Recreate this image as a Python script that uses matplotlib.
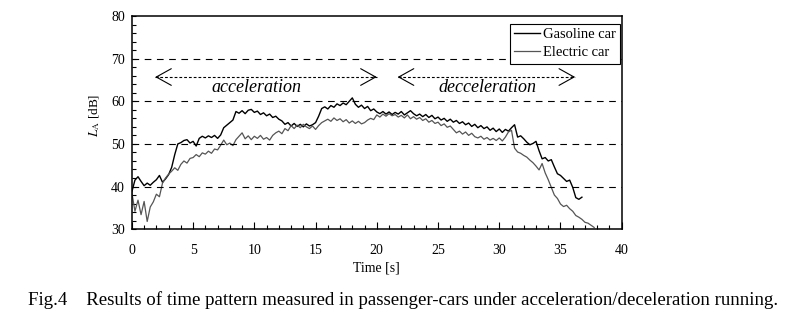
import numpy as np
import matplotlib
matplotlib.use('Agg')
import matplotlib.pyplot as plt
from matplotlib.ticker import MultipleLocator

plt.rcParams['font.family'] = 'Liberation Serif'
plt.rcParams['mathtext.fontset'] = 'stix'

step = 0.25
gasoline = [
    38.8, 41.5, 42.3, 41.2, 40.2, 40.8, 40.3, 41.0, 41.6, 42.6, 41.0, 41.8,
    42.8, 44.5, 47.5, 50.0, 50.3, 50.8, 51.0, 50.2, 50.6, 49.5, 51.3, 51.8,
    51.4, 51.9, 51.5, 52.0, 51.3, 52.1, 53.8, 54.4, 55.0, 55.6, 57.6, 57.2,
    57.8, 57.1, 57.9, 58.1, 57.4, 57.7, 56.9, 57.3, 56.6, 57.0, 56.2, 56.5,
    55.8, 55.4, 54.6, 55.0, 54.2, 54.8, 54.1, 54.6, 54.0, 54.7, 54.2, 54.5,
    55.0, 56.5, 58.3, 58.7, 58.2, 59.0, 58.6, 59.4, 59.0, 59.6, 59.2, 60.0,
    60.8, 59.3, 58.6, 59.1, 58.3, 58.8, 57.8, 58.2, 57.5, 57.1, 57.6, 57.0,
    57.5, 56.9, 57.4, 57.0, 57.6, 56.8, 57.3, 57.8, 57.1, 56.6, 57.0, 56.4,
    56.9, 56.2, 56.7, 55.9, 56.3, 55.6, 56.0, 55.3, 55.8, 55.1, 55.5, 54.8,
    55.2, 54.5, 54.9, 54.1, 54.6, 53.8, 54.3, 53.6, 54.0, 53.2, 53.7, 52.9,
    53.5, 52.7, 53.4, 53.0, 53.8, 54.5, 51.6, 51.9, 51.2, 50.4, 49.8, 50.1,
    50.6, 48.4, 46.5, 46.8, 46.0, 46.3, 44.6, 43.0, 42.6, 41.9, 41.2, 41.5,
    39.8, 37.4, 37.0, 37.5,
]
electric = [
    38.5, 34.2, 36.8, 33.4, 36.5, 31.8, 35.2, 36.4, 38.2, 37.6, 40.8, 42.0,
    42.9, 43.6, 44.4, 43.8, 45.2, 46.0, 45.5, 46.6, 46.8, 47.5, 47.0, 47.9,
    47.6, 48.3, 47.8, 48.8, 48.6, 49.7, 50.9, 49.8, 50.2, 49.6, 51.0, 51.8,
    52.6, 51.2, 51.9, 51.0, 51.8, 51.3, 52.0, 51.1, 51.5, 50.9, 52.0, 52.6,
    53.0, 52.4, 53.6, 53.1, 54.3, 53.6, 54.4, 53.8, 54.6, 54.0, 53.6, 54.2,
    53.4, 54.3, 55.0, 55.4, 55.8, 55.3, 56.1, 55.5, 55.9, 55.2, 55.7, 54.9,
    55.4, 54.8, 55.3, 54.7, 55.0, 55.6, 56.0, 55.7, 56.8, 56.3, 57.0, 56.5,
    57.1, 56.6, 56.9, 56.3, 56.7, 56.1, 56.8, 55.9, 56.4, 55.8, 56.2, 55.5,
    55.9, 55.1, 55.5, 54.8, 55.1, 54.3, 54.7, 53.9, 54.2, 53.4, 52.6, 53.0,
    52.3, 52.8, 52.0, 52.5, 51.7, 51.4, 51.8, 51.1, 51.5, 50.9, 51.3, 50.8,
    51.4, 50.7, 51.6, 52.8, 53.2, 49.0, 48.1, 47.8, 47.3, 46.9, 46.2, 45.6,
    44.8, 43.9, 45.4, 43.2, 41.6, 39.8, 38.0, 37.2, 35.9, 35.3, 35.6, 34.8,
    34.2, 33.2, 32.8, 32.3, 31.6, 31.4, 30.9, 30.4,
]
t_gas = np.arange(len(gasoline)) * step
t_ele = np.arange(len(electric)) * step

accel_span = [1.9, 20.0]
decel_span = [21.7, 36.2]
arrow_level = 65.7

fig = plt.figure(figsize=(7.85, 3.35), dpi=100)
ax = fig.add_axes([0.168, 0.316, 0.624, 0.636])

ax.plot(t_gas, gasoline, color='black', lw=1.0, label='Gasoline car')
ax.plot(t_ele, electric, color='#555555', lw=0.9, label='Electric car')

ax.set_xlim(0, 40)
ax.set_ylim(30, 80)
ax.xaxis.set_major_locator(MultipleLocator(5))
ax.xaxis.set_minor_locator(MultipleLocator(1))
ax.yaxis.set_major_locator(MultipleLocator(10))
ax.yaxis.set_minor_locator(MultipleLocator(2))
ax.tick_params(which='both', direction='in', top=False, right=False, labelsize=10, width=0.8)
ax.tick_params(axis='x', which='major', length=5, pad=11)
ax.tick_params(axis='x', which='minor', length=3)
ax.tick_params(axis='y', which='both', length=3, pad=5)
for s in ax.spines.values():
    s.set_linewidth(1.1)

for y in [40, 50, 60, 70]:
    ax.axhline(y, color='black', lw=0.8, linestyle=(0, (6, 5)))

ax.set_xlabel('Time [s]', fontsize=10, labelpad=3)
ax.set_ylabel(r'$L_{\rm A}$ [dB]', fontsize=9.5)
ax.yaxis.set_label_coords(-0.062, 0.535)

# dashed arrows with open heads
for a, b in [accel_span, decel_span]:
    ax.plot([a, b], [arrow_level, arrow_level], color='black', lw=0.8, linestyle=(0, (2.5, 1.8)))
    for tip, back in [(a, a + 0.3), (b, b - 0.3)]:
        ax.annotate('', xy=(tip, arrow_level), xytext=(back, arrow_level),
                    arrowprops=dict(arrowstyle='->,head_length=1.08,head_width=0.6',
                                    lw=0.8, color='black', shrinkA=0, shrinkB=0))

ax.text(10.2, 63.3, 'acceleration', fontsize=13, style='italic', ha='center', va='center')
ax.text(29.0, 63.3, 'decceleration', fontsize=13, style='italic', ha='center', va='center')

leg = ax.legend(loc='upper right', bbox_to_anchor=(0.996, 0.965), fontsize=10.5,
                frameon=True, fancybox=False, edgecolor='black', framealpha=1,
                handlelength=1.8, handletextpad=0.15, borderpad=0.3, labelspacing=0.35,
                borderaxespad=0)
leg.get_frame().set_linewidth(0.8)

fig.text(28 / 785, 1 - 300 / 335,
         'Fig.4    Results of time pattern measured in passenger-cars under acceleration/deceleration running.',
         fontsize=13.6, ha='left', va='center')

fig.savefig('out.png', dpi=100)
